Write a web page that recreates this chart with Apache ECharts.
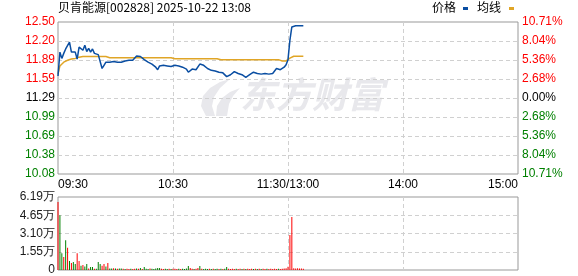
<!DOCTYPE html>
<html><head><meta charset="utf-8">
<script src="https://cdn.jsdelivr.net/npm/echarts@6/dist/echarts.min.js"></script>
<style>html,body{margin:0;padding:0;background:#fff}#c{width:578px;height:276px}</style>
</head><body><div id="c"></div>
<script>
const titleText = '贝肯能源[002828] 2025-10-22 13:08';
const preClose = 11.29;
const limitPct = 10.71;
const priceLabels = ['10.08','10.38','10.69','10.99','11.29','11.59','11.89','12.20','12.50'];
const pctLabels = ['10.71%','8.04%','5.36%','2.68%','0.00%','2.68%','5.36%','8.04%','10.71%'];
const timeTickIdx = [0, 60, 120, 180, 240];
const timeTickLabels = ['09:30','10:30','11:30/13:00','14:00','15:00'];
const volLabels = ['0','1.55万','3.10万','4.65万','6.19万'];
const volMax = 6.19;

const price = [
 11.64,12.02,11.92,12.00,12.07,12.10,12.18,12.02,12.03,12.02,
 11.91,12.10,12.09,12.05,12.13,12.03,12.08,12.02,12.07,12.00,
 11.97,11.98,11.99,11.76,11.81,11.86,11.84,11.86,11.84,11.87,
 11.85,11.86,11.89,11.86,11.87,11.88,11.86,11.89,11.87,11.89,
 11.88,11.96,11.94,11.95,11.98,11.90,11.88,11.86,11.85,11.83,
 11.82,11.78,11.74,11.80,11.81,11.81,11.80,11.80,11.78,11.79,
 11.79,11.81,11.82,11.80,11.79,11.78,11.76,11.75,11.70,11.73,
 11.75,11.73,11.74,11.76,11.83,11.83,11.81,11.79,11.76,11.75,
 11.73,11.73,11.72,11.69,11.70,11.68,11.69,11.67,11.63,11.65,
 11.66,11.69,11.71,11.73,11.68,11.69,11.66,11.65,11.62,11.63,
 11.66,11.67,11.70,11.69,11.68,11.69,11.67,11.68,11.68,11.67,
 11.67,11.67,11.68,11.72,11.76,11.75,11.74,11.75,11.78,11.82,
 11.90,12.21,12.42,12.44,12.44,12.44,12.44,12.44,12.44
];
const avgPrice = [
 11.67,11.80,11.83,11.86,11.88,11.89,11.90,11.91,11.91,11.92,
 11.93,11.94,11.95,11.95,11.95,11.95,11.95,11.95,11.95,11.95,
 11.95,11.95,11.95,11.95,11.95,11.95,11.95,11.93,11.93,11.93,
 11.93,11.93,11.93,11.93,11.93,11.93,11.93,11.93,11.93,11.93,
 11.93,11.93,11.93,11.93,11.93,11.93,11.93,11.93,11.93,11.93,
 11.93,11.93,11.93,11.93,11.93,11.93,11.93,11.93,11.93,11.93,
 11.93,11.915,11.915,11.915,11.915,11.915,11.915,11.915,11.915,11.915,
 11.915,11.915,11.915,11.915,11.915,11.915,11.915,11.915,11.915,11.915,
 11.915,11.915,11.915,11.915,11.915,11.90,11.90,11.90,11.90,11.90,
 11.90,11.90,11.90,11.90,11.90,11.90,11.90,11.90,11.90,11.90,
 11.90,11.90,11.90,11.90,11.90,11.90,11.90,11.90,11.90,11.90,
 11.90,11.90,11.90,11.90,11.90,11.90,11.88,11.88,11.88,11.88,
 11.88,11.925,11.925,11.955,11.955,11.955,11.955,11.955,11.955
];
const volume = [
 5.77,4.64,1.41,1.10,2.53,1.89,0.76,0.59,0.68,0.51,
 1.43,0.76,0.37,0.42,0.30,0.51,0.13,0.25,0.25,0.10,
 0.10,0.68,0.51,0.37,0.51,0.30,0.59,0.12,0.12,0.15,
 0.12,0.10,0.12,0.12,0.10,0.08,0.10,0.08,0.10,0.08,
 0.10,0.12,0.10,0.17,0.08,0.25,0.10,0.08,0.12,0.10,
 0.08,0.12,0.17,0.17,0.10,0.08,0.10,0.08,0.10,0.08,
 0.10,0.10,0.08,0.10,0.08,0.10,0.08,0.12,0.34,0.17,
 0.10,0.08,0.10,0.17,0.34,0.10,0.08,0.10,0.08,0.10,
 0.08,0.10,0.08,0.10,0.08,0.10,0.08,0.10,0.25,0.10,
 0.08,0.10,0.08,0.10,0.08,0.10,0.08,0.10,0.08,0.10,
 0.08,0.10,0.08,0.10,0.08,0.10,0.08,0.10,0.08,0.10,
 0.08,0.10,0.08,0.10,0.08,0.10,0.08,0.10,0.12,0.15,
 0.28,2.96,4.50,0.15,0.12,0.15,0.12,0.12,0.10
];
const volUp = [
 1,0,0,1,0,1,0,1,0,0,
 1,1,0,1,0,0,1,0,0,1,
 0,0,0,1,1,0,1,0,0,1,
 0,1,0,0,1,0,1,1,0,1,
 1,0,1,0,1,0,0,0,1,0,
 0,0,0,0,1,1,0,0,1,0,
 1,1,1,0,1,0,0,0,0,1,
 1,0,1,1,0,1,0,0,0,1,
 0,1,0,0,1,0,1,0,0,1,
 1,1,1,0,1,1,0,1,0,1,
 1,1,0,1,0,1,0,1,1,0,
 1,1,1,1,1,0,1,1,1,1,
 1,1,1,1,1,1,1,1,1
];

// time categories (241 minutes of a trading day)
const times = [];
const fmt = m => String(Math.floor(m / 60)).padStart(2, '0') + ':' + String(m % 60).padStart(2, '0');
for (let m = 570; m <= 690; m++) times.push(fmt(m));
for (let m = 781; m <= 900; m++) times.push(fmt(m));

const step = preClose * limitPct / 100 / 4;
const yMin = preClose - 4 * step;
const yMax = preClose + 4 * step;
const UP = '#ff0000', DOWN = '#008000', FLAT = '#000000';
const FONT = 'Liberation Sans';

const tickIndexOf = v => Math.round((v - yMin) / step);
const priceColor = v => {
  const i = tickIndexOf(v);
  return i > 4 ? UP : (i < 4 ? DOWN : FLAT);
};

const chart = echarts.init(document.getElementById('c'), null, { renderer: 'canvas' });
const gridLineStyle = { color: '#d0d0d0', type: [4, 3], width: 1 };
const WM = '#e8e8ec';

chart.setOption({
  animation: false,
  backgroundColor: '#fff',
  textStyle: { fontFamily: FONT },
  grid: [
    { left: 58, right: 60, top: 22, height: 152, show: true, borderColor: '#999', borderWidth: 1, backgroundColor: 'transparent' },
    { left: 58, right: 60, top: 197, height: 73, show: true, borderColor: '#999', borderWidth: 1, backgroundColor: 'transparent' }
  ],
  xAxis: [
    {
      type: 'category', gridIndex: 0, data: times, boundaryGap: false,
      axisLine: { show: false }, axisTick: { show: false },
      axisLabel: {
        show: true, margin: 5, fontSize: 12, color: '#000', fontFamily: FONT,
        interval: (i) => timeTickIdx.indexOf(i) >= 0,
        formatter: (v, i) => { const k = timeTickIdx.indexOf(i); return k >= 0 ? timeTickLabels[k] : ''; },
        alignMinLabel: 'left', alignMaxLabel: 'right', showMinLabel: true, showMaxLabel: true
      },
      splitLine: { show: true, interval: (i) => i === 60 || i === 120 || i === 180, lineStyle: gridLineStyle }
    },
    {
      type: 'category', gridIndex: 1, data: times, boundaryGap: false,
      axisLine: { show: false }, axisTick: { show: false }, axisLabel: { show: false },
      splitLine: { show: true, interval: (i) => i === 60 || i === 120 || i === 180, lineStyle: gridLineStyle }
    }
  ],
  yAxis: [
    {
      type: 'value', gridIndex: 0, min: yMin, max: yMax, interval: step, position: 'left',
      axisLine: { show: false }, axisTick: { show: false },
      axisLabel: { fontSize: 12, margin: 3, fontFamily: FONT,
        formatter: (v) => priceLabels[tickIndexOf(v)], color: (v) => priceColor(v) },
      splitLine: { show: true, showMinLine: false, showMaxLine: false, lineStyle: gridLineStyle }
    },
    {
      type: 'value', gridIndex: 0, min: yMin, max: yMax, interval: step, position: 'right',
      axisLine: { show: false }, axisTick: { show: false },
      axisLabel: { fontSize: 12, margin: 4, fontFamily: FONT,
        formatter: (v) => pctLabels[tickIndexOf(v)], color: (v) => priceColor(v) },
      splitLine: { show: false }
    },
    {
      type: 'value', gridIndex: 1, min: 0, max: volMax, interval: volMax / 4, position: 'left',
      axisLine: { show: false }, axisTick: { show: false },
      axisLabel: { fontSize: 12, margin: 3, color: '#1a1a1a', fontFamily: FONT,
        formatter: (v) => volLabels[Math.round(v / (volMax / 4))] },
      splitLine: { show: true, showMinLine: false, showMaxLine: false, lineStyle: gridLineStyle }
    }
  ],
  graphic: [
    { type: 'polygon', silent: true, z: 0,
      shape: { points: [[206,116],[201,106],[203,96],[210,88],[220,82],[230,79],[220,88],[214,97],[212,106],[215,116]] },
      style: { fill: WM } },
    { type: 'polygon', silent: true, z: 0,
      shape: { points: [[216,116],[217,106],[222,98],[230,92],[240,88],[233,96],[229,104],[227,116]] },
      style: { fill: WM } },
    { type: 'text', left: 240, top: 76, z: 0, silent: true,
      style: { text: '东方财富', fill: WM, font: 'italic bold 36px "Noto Sans CJK SC"' } },
    { type: 'text', left: 58, top: 1, style: { text: titleText, fill: '#000', font: '12px "Noto Sans CJK SC"' } },
    { type: 'text', left: 432, top: 1, style: { text: '价格', fill: '#000', font: '12px "Noto Sans CJK SC"' } },
    { type: 'rect', shape: { x: 463, y: 7, width: 5, height: 3 }, style: { fill: '#0a4ea2' } },
    { type: 'text', left: 477, top: 1, style: { text: '均线', fill: '#000', font: '12px "Noto Sans CJK SC"' } },
    { type: 'rect', shape: { x: 509, y: 7, width: 5, height: 3 }, style: { fill: '#e0a526' } }
  ],
  series: [
    { name: '均线', type: 'line', xAxisIndex: 0, yAxisIndex: 0, data: avgPrice, symbol: 'none',
      lineStyle: { color: '#e0a526', width: 1.5 }, z: 3 },
    { name: '价格', type: 'line', xAxisIndex: 0, yAxisIndex: 0, data: price, symbol: 'none',
      lineStyle: { color: '#0a4ea2', width: 1.5 }, z: 4 },
    { name: '成交量', type: 'bar', xAxisIndex: 1, yAxisIndex: 2, barWidth: 1,
      data: volume.map((v, i) => ({ value: v, itemStyle: { color: volUp[i] ? UP : DOWN } })) }
  ]
});
</script>
</body></html>
